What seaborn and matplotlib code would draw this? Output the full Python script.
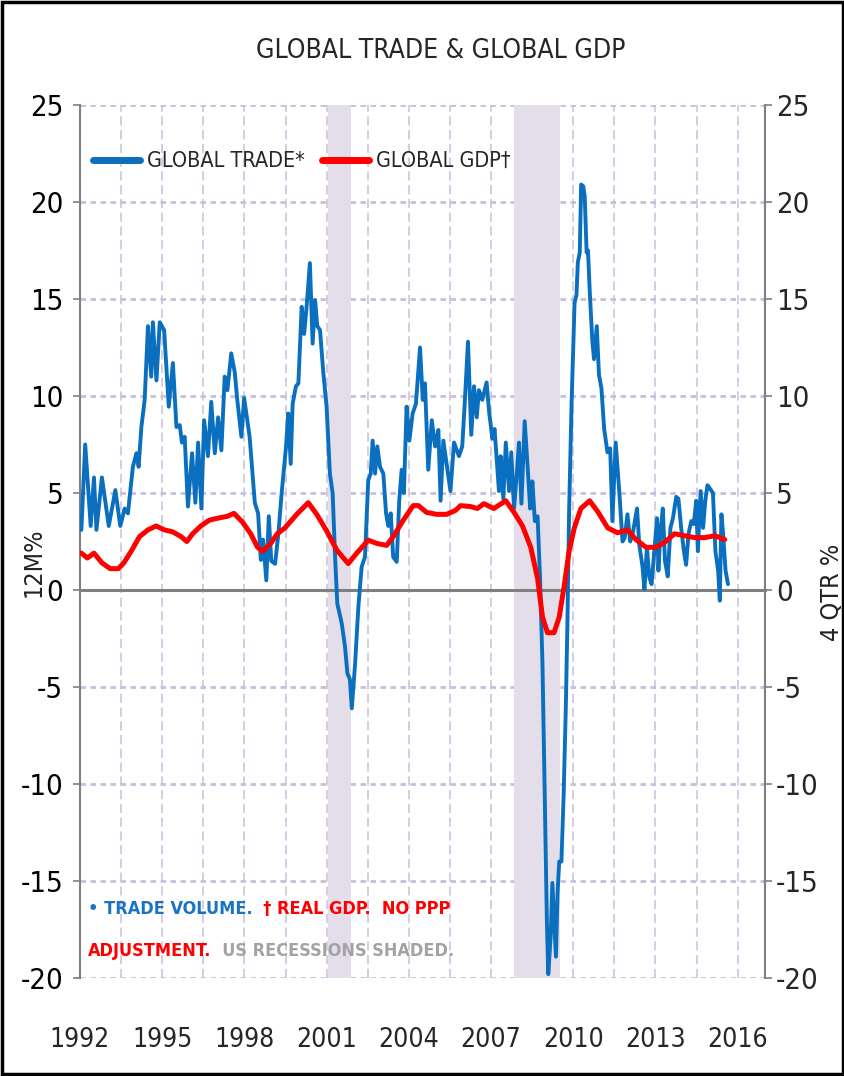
import numpy as np
import pandas as pd
import seaborn as sns
import matplotlib
matplotlib.use("Agg")
import matplotlib.pyplot as plt
from matplotlib.patches import Rectangle

# ---------------- data ----------------
trade_years = [
    1992.05, 1992.19, 1992.39, 1992.51, 1992.60, 1992.80, 1993.05, 1993.29, 1993.47, 1993.63,
    1993.75, 1993.93, 1994.06, 1994.14, 1994.24, 1994.36, 1994.48, 1994.60, 1994.66, 1994.79,
    1994.91, 1995.07, 1995.24, 1995.39, 1995.52, 1995.64, 1995.72, 1995.82, 1995.94, 1996.09,
    1996.21, 1996.31, 1996.43, 1996.53, 1996.67, 1996.79, 1996.92, 1997.04, 1997.16, 1997.28,
    1997.38, 1997.52, 1997.65, 1997.74, 1997.89, 1997.99, 1998.07, 1998.19, 1998.38, 1998.50,
    1998.60, 1998.68, 1998.80, 1998.89, 1998.98, 1999.12, 1999.24, 1999.36, 1999.52, 1999.60,
    1999.69, 1999.76, 1999.88, 1999.97, 2000.09, 2000.18, 2000.27, 2000.39, 2000.49, 2000.58,
    2000.66, 2000.76, 2000.88, 2001.00, 2001.12, 2001.22, 2001.31, 2001.39, 2001.55, 2001.67,
    2001.76, 2001.85, 2001.92, 2002.04, 2002.16, 2002.28, 2002.40, 2002.52, 2002.61, 2002.68,
    2002.77, 2002.85, 2002.95, 2003.07, 2003.17, 2003.25, 2003.34, 2003.43, 2003.56, 2003.65,
    2003.74, 2003.82, 2003.92, 2004.02, 2004.14, 2004.26, 2004.41, 2004.51, 2004.59, 2004.71,
    2004.84, 2004.96, 2005.08, 2005.16, 2005.26, 2005.38, 2005.52, 2005.65, 2005.83, 2005.95,
    2006.04, 2006.16, 2006.28, 2006.38, 2006.48, 2006.56, 2006.68, 2006.77, 2006.84, 2006.93,
    2007.05, 2007.13, 2007.21, 2007.29, 2007.35, 2007.45, 2007.54, 2007.66, 2007.74, 2007.84,
    2007.94, 2008.02, 2008.11, 2008.23, 2008.33, 2008.43, 2008.51, 2008.60, 2008.70, 2008.79,
    2008.88, 2008.96, 2009.04, 2009.09, 2009.18, 2009.24, 2009.30, 2009.37, 2009.43, 2009.49,
    2009.57, 2009.65, 2009.73, 2009.79, 2009.85, 2009.94, 2010.05, 2010.12, 2010.17, 2010.24,
    2010.29, 2010.37, 2010.42, 2010.49, 2010.54, 2010.61, 2010.70, 2010.76, 2010.86, 2010.94,
    2011.03, 2011.13, 2011.25, 2011.35, 2011.43, 2011.55, 2011.68, 2011.80, 2011.88, 2011.98,
    2012.08, 2012.17, 2012.25, 2012.33, 2012.41, 2012.53, 2012.60, 2012.69, 2012.78, 2012.86,
    2012.96, 2013.06, 2013.11, 2013.18, 2013.27, 2013.35, 2013.45, 2013.55, 2013.64, 2013.76,
    2013.84, 2013.94, 2014.04, 2014.12, 2014.21, 2014.31, 2014.40, 2014.49, 2014.55, 2014.65,
    2014.74, 2014.82, 2014.90, 2014.98, 2015.10, 2015.19, 2015.29, 2015.35, 2015.41, 2015.47,
    2015.56, 2015.65,
]
trade_vals = [
    3.1, 7.5, 3.3, 5.8, 3.1, 5.8, 3.3, 5.15, 3.3, 4.2,
    3.95, 6.35, 7.05, 6.35, 8.4, 9.8, 13.6, 11.0, 13.8, 10.8,
    13.8, 13.4, 9.45, 11.7, 8.4, 8.5, 7.6, 7.9, 4.3, 7.05,
    4.5, 7.6, 4.2, 8.75, 6.9, 9.7, 7.05, 8.9, 7.2, 11.0,
    10.3, 12.2, 11.2, 9.8, 7.9, 9.9, 9.1, 7.9, 4.5, 3.95,
    1.55, 2.6, 0.5, 3.8, 1.5, 1.35, 2.9, 5.0, 7.4, 9.1,
    6.5, 9.6, 10.5, 10.65, 14.6, 13.2, 14.6, 16.85, 12.7, 14.95,
    13.6, 13.4, 11.2, 9.45, 6.0, 5.0, 1.7, -0.7, -1.7, -2.9,
    -4.3, -4.6, -6.1, -3.8, -0.85, 1.2, 1.7, 5.67, 6.0, 7.7,
    6.0, 7.4, 6.35, 6.0, 3.95, 3.3, 3.95, 1.7, 1.45, 4.6,
    6.2, 5.0, 9.45, 7.7, 9.1, 9.6, 12.5, 9.8, 10.65, 6.2,
    8.75, 7.4, 8.25, 4.6, 7.7, 6.5, 5.1, 7.6, 6.9, 7.4,
    9.6, 12.8, 8.0, 10.5, 8.9, 10.3, 9.8, 10.3, 10.7, 9.2,
    7.8, 8.3, 6.7, 5.1, 6.9, 4.7, 7.6, 5.1, 7.1, 4.2,
    6.0, 7.6, 4.45, 8.7, 6.5, 4.2, 5.6, 3.55, 3.8, 0.6,
    -3.9, -10.6, -17.1, -19.8, -17.8, -15.1, -16.9, -18.9, -15.6, -14.0,
    -14.0, -10.6, -6.1, -1.6, 4.0, 9.6, 14.8, 15.2, 16.9, 17.4,
    20.9, 20.8, 20.3, 17.4, 17.5, 15.2, 12.8, 11.9, 13.6, 11.1,
    10.4, 8.3, 7.1, 7.3, 3.55, 7.6, 5.1, 2.5, 2.7, 3.9,
    2.5, 2.9, 3.55, 4.2, 2.35, 1.2, 0.05, 2.2, 0.65, 0.3,
    2.0, 3.7, 1.0, 2.9, 4.2, 1.5, 0.7, 3.2, 3.7, 4.8,
    4.7, 3.2, 2.0, 1.3, 2.9, 3.55, 3.4, 4.6, 2.0, 5.1,
    3.2, 4.6, 5.4, 5.25, 5.0, 2.0, 1.0, -0.55, 3.9, 2.9,
    1.0, 0.3,
]

gdp_years = [
    1992.05, 1992.27, 1992.51, 1992.80, 1993.10, 1993.40, 1993.60, 1993.87, 1994.17, 1994.48,
    1994.78, 1995.08, 1995.38, 1995.69, 1995.90, 1996.11, 1996.41, 1996.72, 1997.02, 1997.38,
    1997.62, 1997.93, 1998.23, 1998.48, 1998.66, 1998.96, 1999.20, 1999.48, 1999.91, 2000.33,
    2000.64, 2001.00, 2001.37, 2001.79, 2002.10, 2002.52, 2002.83, 2003.19, 2003.43, 2003.80,
    2004.16, 2004.35, 2004.65, 2005.02, 2005.38, 2005.70, 2005.89, 2006.26, 2006.50, 2006.74,
    2007.10, 2007.54, 2007.84, 2008.15, 2008.45, 2008.70, 2008.88, 2009.06, 2009.30, 2009.49,
    2009.67, 2009.85, 2010.04, 2010.28, 2010.60, 2010.89, 2011.26, 2011.62, 2011.98, 2012.29,
    2012.66, 2013.02, 2013.33, 2013.70, 2014.06, 2014.43, 2014.80, 2015.17, 2015.53,
]
gdp_vals = [
    1.9, 1.65, 1.9, 1.4, 1.1, 1.1, 1.4, 2.0, 2.75, 3.1,
    3.3, 3.1, 3.0, 2.75, 2.5, 2.9, 3.3, 3.6, 3.7, 3.8,
    3.95, 3.5, 2.9, 2.2, 2.0, 2.4, 2.9, 3.2, 3.9, 4.5,
    3.9, 3.05, 2.06, 1.36, 1.9, 2.57, 2.4, 2.3, 2.75, 3.6,
    4.35, 4.35, 4.0, 3.9, 3.9, 4.1, 4.35, 4.3, 4.2, 4.45,
    4.2, 4.6, 4.0, 3.3, 2.2, 0.6, -1.4, -2.2, -2.2, -1.4,
    0.2, 2.0, 3.2, 4.2, 4.6, 4.05, 3.2, 2.95, 3.1, 2.6,
    2.2, 2.2, 2.45, 2.9, 2.8, 2.7, 2.7, 2.8, 2.6,
]

recession_start = [2001.05, 2007.85]
recession_end = [2001.90, 2009.50]

y_ticks = [-20, -15, -10, -5, 0, 5, 10, 15, 20, 25]
year_labels = ["1992", "1995", "1998", "2001", "2004", "2007", "2010", "2013", "2016"]

# ---------------- styling ----------------
sns.set_style("white")
plt.rcParams["font.family"] = ["DejaVu Sans"]
plt.rcParams["font.stretch"] = "condensed"
plt.rcParams["axes.unicode_minus"] = False

BLUE = "#0b6fbf"
RED = "#ff0000"
GRID = "#c9bedb"
SHADE = "#e3deea"
AXIS = "#7f7f7f"

fig = plt.figure(figsize=(8.45, 10.76), dpi=100)
ax = fig.add_axes([80 / 845, 98 / 1076, 685 / 845, 873 / 1076])

for s, e in zip(recession_start, recession_end):
    ax.axvspan(s, e, color=SHADE, lw=0, zorder=1)

trade_df = pd.DataFrame({"year": trade_years, "value": trade_vals})
gdp_df = pd.DataFrame({"year": gdp_years, "value": gdp_vals})

sns.lineplot(data=trade_df, x="year", y="value", ax=ax, color=BLUE, lw=2.8,
             label="GLOBAL TRADE*", zorder=3)
sns.lineplot(data=gdp_df, x="year", y="value", ax=ax, color=RED, lw=3.6,
             label="GLOBAL GDP\u2020", zorder=4)

ax.set_xlim(1992, 2017)
ax.set_ylim(-20, 25)
ax.set_xlabel("")
ax.set_ylabel("")
ax.set_yticks(y_ticks)
ax.set_xticks(np.arange(1992, 2016.5, 1.5))
ax.set_xticklabels([])

ax.set_axisbelow(True)
ax.grid(True, axis="y", color=GRID, lw=2.0, ls=(0, (2, 1.6)), zorder=0)
ax.grid(True, axis="x", color=GRID, lw=1.1, ls=(0, (6, 3)), zorder=0)

for side in ["top", "right"]:
    ax.spines[side].set_visible(False)
ax.spines["left"].set_color(AXIS)
ax.spines["left"].set_linewidth(1.5)
ax.spines["bottom"].set_position(("data", 0))
ax.spines["bottom"].set_color(AXIS)
ax.spines["bottom"].set_linewidth(2.2)
ax.spines["bottom"].set_zorder(2.5)

TICK_FS = 21
ax.tick_params(axis="x", direction="inout", length=11, width=1.2, color="#6f6f6f",
               labelbottom=False)
ax.tick_params(axis="y", direction="out", length=5, width=1.2, color=AXIS,
               labelsize=TICK_FS, pad=7, labelcolor="black")

twin = ax.twinx()
twin.set_ylim(-20, 25)
twin.set_yticks(y_ticks)
for side in ["top", "bottom", "left"]:
    twin.spines[side].set_visible(False)
twin.spines["right"].set_color(AXIS)
twin.spines["right"].set_linewidth(1.5)
twin.tick_params(axis="y", direction="out", length=5, width=1.2, color=AXIS,
                 labelsize=TICK_FS, pad=3)
twin.grid(False)

sec = ax.secondary_xaxis("bottom")
sec.set_xticks(np.arange(1992, 2017, 3))
sec.set_xticklabels(year_labels)
sec.spines["bottom"].set_visible(False)
sec.tick_params(length=0, pad=35, labelsize=19)

leg = ax.legend(loc="upper left", bbox_to_anchor=(0.0, 0.962), ncol=2, frameon=False,
                fontsize=15.5, handlelength=2.2, handletextpad=0.3, columnspacing=0.8,
                borderaxespad=0.2)
for ln in leg.get_lines():
    ln.set_linewidth(5)

# footnote (multi-coloured)
fs = 13
t1 = ax.text(0.011, 0.069, "\u2022 TRADE VOLUME.", transform=ax.transAxes, color="#1a73c4",
             fontsize=fs, fontweight="bold", va="bottom", zorder=5)
ax.annotate("  \u2020 REAL GDP.  NO PPP", xy=(1, 0), xycoords=t1, va="bottom",
            color=RED, fontsize=fs, fontweight="bold", zorder=5)
t3 = ax.text(0.011, 0.021, "ADJUSTMENT.", transform=ax.transAxes, color=RED,
             fontsize=fs, fontweight="bold", va="bottom", zorder=5)
ax.annotate("  US RECESSIONS SHADED.", xy=(1, 0), xycoords=t3, va="bottom",
            color="#a3a3a3", fontsize=fs, fontweight="bold", zorder=5)

fig.text(0.522, 0.953, "GLOBAL TRADE & GLOBAL GDP", ha="center", va="center", fontsize=19)
fig.text(34 / 845, 1 - 562 / 1076, "12M%", rotation=90, ha="center", va="center",
         fontsize=18, color="#222222")
fig.text(832 / 845, 1 - 592 / 1076, "4 QTR %", rotation=90, ha="center", va="center",
         fontsize=18, color="#222222")

fig.add_artist(Rectangle((0.002, 0.002), 0.996, 0.996, transform=fig.transFigure,
                         fill=False, ec="black", lw=2.5))

fig.savefig("out.png", dpi=100)
